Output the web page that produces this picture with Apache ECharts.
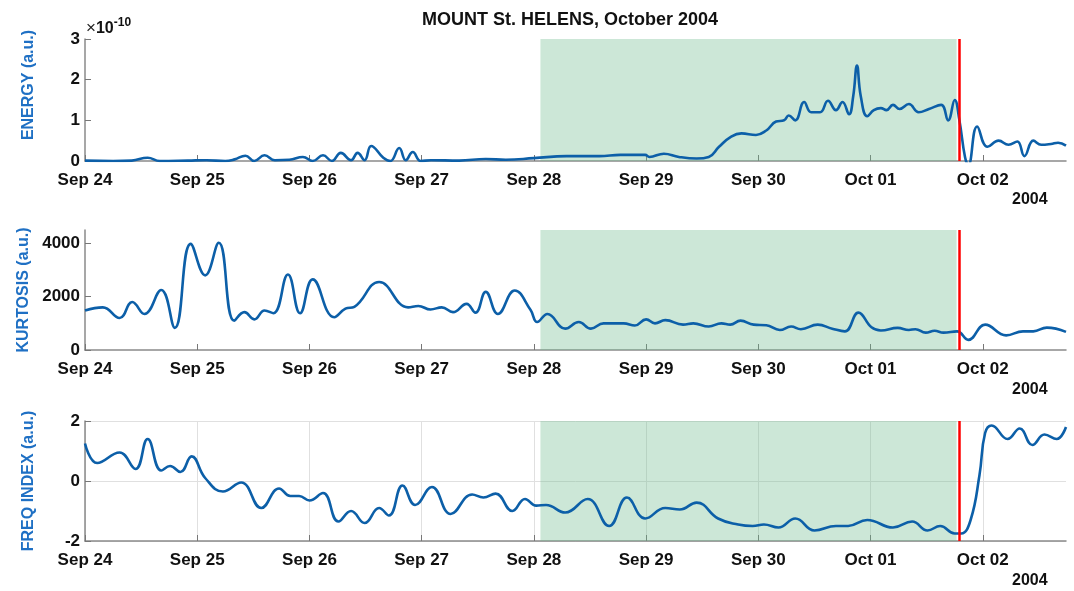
<!DOCTYPE html>
<html>
<head>
<meta charset="utf-8">
<script src="https://cdn.jsdelivr.net/npm/echarts@6/dist/echarts.min.js"></script>
<style>
  html, body { margin: 0; padding: 0; background: #fff; }
  #chart { width: 1074px; height: 591px; }
</style>
</head>
<body>
<div id="chart"></div>
<script>
// time in hours since Sep 24 00:00 (2004)
const dayLabels = ['Sep 24', 'Sep 25', 'Sep 26', 'Sep 27', 'Sep 28', 'Sep 29', 'Sep 30', 'Oct 01', 'Oct 02'];
const dayTicks = dayLabels.map((d, i) => i * 24);
const xMaxHours = 209.8;
const greenStart = 97.4;
const greenEnd = 186.4;
const eruptionTime = 187.0;

// energy, in units of 1e-10
const energyTime = [0, 6, 10, 13.4, 16, 22, 26, 30, 32, 34.3, 36.2, 38.4, 40.6, 43.7, 46.6, 48.7, 50.9, 52.8, 54.7, 56.9, 58.3, 59.8, 61.2, 63.8, 65.3, 67.2, 68.6, 70.1, 71.8, 74, 80, 85.7, 90, 96, 103, 110, 114.5, 119.8, 120.7, 123.8, 127, 130.8, 133.4, 135.6, 138.2, 140.4, 143.5, 145.7, 147.8, 149.5, 150.5, 151.9, 153.8, 155.3, 157.2, 158.9, 160.6, 162, 163.4, 164.3, 165.1, 165.9, 167.3, 168.7, 170.2, 171.4, 172.8, 174.2, 176.2, 178.3, 180.5, 183.1, 184.6, 186, 187, 188.2, 188.9, 190.8, 193, 195.4, 197.5, 199.4, 200.9, 202.8, 204.5, 206.6, 208.1, 209.8];
const energyVals = [0.01, 0.0, 0.01, 0.08, 0.0, 0.01, 0.02, 0.0, 0.04, 0.13, 0.0, 0.14, 0.02, 0.03, 0.1, 0.0, 0.14, 0.0, 0.2, 0.02, 0.2, 0.02, 0.37, 0.08, 0.0, 0.32, 0.02, 0.22, 0.0, 0.02, 0.01, 0.05, 0.03, 0.07, 0.12, 0.12, 0.15, 0.15, 0.1, 0.18, 0.1, 0.06, 0.1, 0.35, 0.6, 0.68, 0.64, 0.75, 0.97, 1.0, 1.12, 1.0, 1.45, 1.2, 1.2, 1.48, 1.25, 1.45, 1.15, 1.6, 2.35, 1.6, 1.1, 1.25, 1.3, 1.25, 1.38, 1.28, 1.4, 1.2, 1.28, 1.38, 1.0, 1.5, 1.0, 0.1, -0.1, 0.85, 0.35, 0.5, 0.4, 0.48, 0.12, 0.5, 0.4, 0.42, 0.45, 0.38];

const kurtTime = [0, 3.8, 7.4, 10.1, 12.7, 16.3, 19.2, 22.6, 25.7, 28.6, 31.9, 34.1, 36.2, 38.4, 40.3, 43.4, 46, 48.7, 53.3, 55.7, 57.6, 62.9, 69.1, 71.3, 73.9, 76.3, 78.7, 81.6, 83.5, 85.7, 88.3, 91.9, 95.3, 96.7, 98.9, 102.7, 105.6, 108.2, 110.9, 115.2, 117.6, 120, 121.9, 124.1, 127.9, 130.1, 133.4, 136.1, 138, 140.2, 143, 145.7, 148.6, 151, 153.1, 156.7, 159.8, 162.5, 165.4, 168.2, 170.2, 173.8, 176.2, 177.6, 179.8, 181.7, 183.6, 186.5, 188.9, 192.5, 197, 200.6, 202.8, 205.7, 209.8];
const kurtVals = [1480, 1600, 1200, 1800, 1350, 2250, 830, 3980, 2800, 4020, 1100, 1420, 1150, 1480, 1380, 2830, 1380, 2650, 1230, 1550, 1620, 2550, 1600, 1650, 1520, 1600, 1420, 1730, 1400, 2180, 1350, 2230, 1500, 1050, 1350, 800, 1050, 800, 1000, 1000, 920, 1150, 1000, 1120, 950, 1000, 880, 1000, 950, 1100, 950, 930, 750, 880, 780, 950, 800, 700, 1400, 850, 730, 830, 750, 780, 650, 720, 650, 700, 380, 950, 550, 700, 700, 840, 680];

const freqTime = [0, 2.6, 7.4, 10.8, 13.4, 16.3, 18.2, 20.4, 22.8, 25.7, 29.5, 33.4, 37.7, 41.5, 43.9, 45.8, 48, 50.9, 54.2, 56.9, 59.8, 62.9, 65, 67.9, 70.6, 74.2, 78.2, 82.8, 85.2, 87.8, 91.4, 94.1, 96.5, 98.6, 102.7, 107.5, 112.1, 115.9, 119.8, 124.1, 127.2, 130.8, 135.4, 139.7, 142.8, 145.2, 148.3, 151.9, 156, 160.6, 163.2, 167.3, 172.8, 176.9, 180.2, 182.9, 186, 187.4, 189.4, 191.3, 192.5, 193.9, 197.3, 199.9, 202.6, 205.2, 207.8, 209.8];
const freqVals = [1.25, 0.6, 0.95, 0.4, 1.4, 0.35, 0.5, 0.3, 0.82, 0.1, -0.35, -0.05, -0.9, -0.25, -0.5, -0.5, -0.65, -0.4, -1.35, -1.0, -1.4, -0.9, -1.15, -0.15, -0.8, -0.2, -1.1, -0.45, -0.55, -0.42, -1.0, -0.6, -0.82, -0.8, -1.05, -0.6, -1.5, -0.55, -1.25, -0.9, -0.95, -0.72, -1.25, -1.45, -1.5, -1.45, -1.55, -1.25, -1.65, -1.5, -1.5, -1.3, -1.55, -1.35, -1.65, -1.5, -1.75, -1.75, -1.3, 0.2, 1.6, 1.85, 1.4, 1.75, 1.2, 1.55, 1.4, 1.8];

const chart = echarts.init(document.getElementById('chart'));
const FONT = '"Liberation Sans", Arial, sans-serif';
const lineColor = '#0c5fa8';
const nameColor = '#1f70c4';
const grids = [
  { left: 85, right: 8, top: 39, height: 122 },
  { left: 85, right: 8, top: 230, height: 120 },
  { left: 85, right: 8, top: 421, height: 120 }
];

const makeX = (i) => ({
  type: 'value',
  gridIndex: i,
  min: 0,
  max: xMaxHours,
  interval: 24,
  axisLine: { onZero: false, lineStyle: { color: '#8a8a8a', width: 1.5 } },
  axisTick: { inside: true, length: 6, lineStyle: { color: '#777' }, customValues: dayTicks },
  axisLabel: {
    color: '#111', fontWeight: 'bold', fontSize: 17, fontFamily: FONT, margin: 11,
    customValues: dayTicks,
    formatter: v => dayLabels[Math.round(v / 24)] || ''
  },
  splitLine: { show: i === 2, lineStyle: { color: '#e0e0e0' } }
});

const makeY = (i, name, min, max, interval, padTop, extra) => Object.assign({
  type: 'value',
  gridIndex: i,
  min: min,
  max: max,
  interval: interval,
  name: name,
  nameLocation: 'middle',
  nameGap: 48,
  nameTextStyle: { color: nameColor, fontWeight: 'bold', fontSize: 16, fontFamily: FONT, padding: [0, 0, 0, padTop] },
  axisLine: { show: true, lineStyle: { color: '#8a8a8a', width: 1.5 } },
  axisTick: { inside: true, length: 6, lineStyle: { color: '#777' } },
  axisLabel: { color: '#111', fontWeight: 'bold', fontSize: 17, fontFamily: FONT, margin: 5, formatter: v => String(v) },
  splitLine: { show: false }
}, extra || {});

const makeSeries = (i, times, vals) => ({
  type: 'line',
  xAxisIndex: i,
  yAxisIndex: i,
  data: times.map((t, k) => [t, vals[k]]),
  showSymbol: false,
  smooth: 0.45,
  lineStyle: { color: lineColor, width: 2.6 },
  markArea: {
    silent: true,
    itemStyle: { color: 'rgba(110, 185, 140, 0.35)' },
    data: [[{ xAxis: greenStart }, { xAxis: greenEnd }]]
  },
  markLine: {
    silent: true,
    symbol: 'none',
    label: { show: false },
    lineStyle: { color: '#f00', width: 2.5, type: 'solid' },
    data: [{ xAxis: eruptionTime }]
  },
  z: 3
});

const option = {
  animation: false,
  backgroundColor: '#fff',
  title: {
    text: 'MOUNT St. HELENS, October 2004',
    left: 417,
    top: 6,
    textStyle: { color: '#111', fontWeight: 'bold', fontSize: 18, fontFamily: FONT }
  },
  grid: grids,
  xAxis: [makeX(0), makeX(1), makeX(2)],
  yAxis: [
    makeY(0, 'ENERGY (a.u.)', 0, 3, 1, 30),
    makeY(1, 'KURTOSIS (a.u.)', 0, 4500, 2000, 0, {
      axisTick: { inside: true, length: 6, lineStyle: { color: '#777' }, customValues: [0, 2000, 4000] },
      axisLabel: { color: '#111', fontWeight: 'bold', fontSize: 17, fontFamily: FONT, margin: 5, customValues: [0, 2000, 4000], formatter: v => String(v) }
    }),
    makeY(2, 'FREQ INDEX (a.u.)', -2, 2, 2, 0, {
      splitLine: { show: true, lineStyle: { color: '#e0e0e0' } }
    })
  ],
  graphic: [
    {
      type: 'text', left: 86, top: 17,
      style: {
        text: '{a|×}{b|10}{c|-10}',
        rich: {
          a: { fontSize: 17, fontFamily: FONT, fill: '#222', verticalAlign: 'bottom' },
          b: { fontSize: 16, fontFamily: FONT, fontWeight: 'bold', fill: '#111', verticalAlign: 'bottom' },
          c: { fontSize: 12, fontFamily: FONT, fontWeight: 'bold', fill: '#111', verticalAlign: 'top', padding: [0, 0, 8, 0] }
        }
      }
    },
    { type: 'text', left: 1012, top: 192, style: { text: '2004', fontSize: 16, fontWeight: 'bold', fontFamily: FONT, fill: '#111' } },
    { type: 'text', left: 1012, top: 382, style: { text: '2004', fontSize: 16, fontWeight: 'bold', fontFamily: FONT, fill: '#111' } },
    { type: 'text', left: 1012, top: 573, style: { text: '2004', fontSize: 16, fontWeight: 'bold', fontFamily: FONT, fill: '#111' } }
  ],
  series: [
    makeSeries(0, energyTime, energyVals),
    makeSeries(1, kurtTime, kurtVals),
    makeSeries(2, freqTime, freqVals)
  ]
};

chart.setOption(option);
window.addEventListener('resize', () => chart.resize());
</script>
</body>
</html>
